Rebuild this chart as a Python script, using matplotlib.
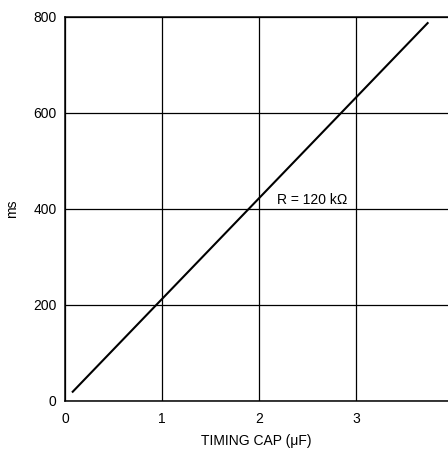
import matplotlib
matplotlib.use("Agg")
import matplotlib.pyplot as plt

plt.rcParams["font.family"] = ["Liberation Sans", "DejaVu Sans"]

# Timing capacitor (uF) vs delay (ms), R = 120 kOhm
cap_uf = [0.08, 3.74]
delay_ms = [19, 787]

x_ticks = [0, 1, 2, 3]
y_ticks = [0, 200, 400, 600, 800]

fig = plt.figure(figsize=(4.48, 4.55), dpi=100)
ax = fig.add_axes([0.145, 0.119, 0.855, 0.844])

ax.plot(cap_uf, delay_ms, color="black", linewidth=1.5)

ax.set_xlim(0, 3.95)
ax.set_ylim(0, 800)
ax.set_xticks(x_ticks)
ax.set_yticks(y_ticks)
ax.grid(True, color="black", linewidth=0.9)
ax.tick_params(axis="x", length=0, labelsize=10, pad=8)
ax.tick_params(axis="y", length=0, labelsize=10, pad=6)
ax.spines["right"].set_visible(False)
for s in ["left", "top", "bottom"]:
    ax.spines[s].set_linewidth(1.1)

ax.text(2.19, 404, "R = 120 k\u03a9", fontsize=10, ha="left", va="bottom")

ax.set_xlabel("TIMING CAP (\u03bcF)", fontsize=10, labelpad=6)
ax.set_ylabel("ms", fontsize=10, labelpad=10)

fig.savefig("out.png", dpi=100)
